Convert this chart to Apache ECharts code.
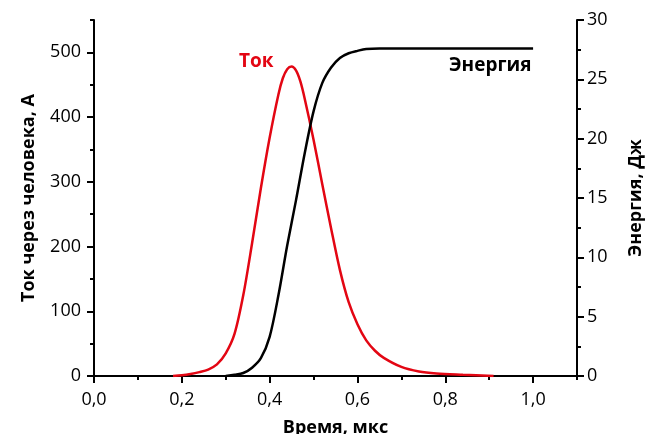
<!DOCTYPE html>
<html>
<head>
<meta charset="utf-8">
<script src="https://cdn.jsdelivr.net/npm/echarts@6/dist/echarts.min.js"></script>
<style>
  html, body { margin: 0; padding: 0; background: #fff; }
  #chart { width: 650px; height: 434px; }
</style>
</head>
<body>
<div id="chart"></div>
<script>
// время, мкс и ток, А
var currentT = [0.18, 0.20, 0.22, 0.24, 0.26, 0.28, 0.30, 0.32, 0.34, 0.36, 0.38, 0.40, 0.42, 0.43, 0.44, 0.45, 0.46, 0.47, 0.48, 0.50, 0.52, 0.54, 0.56, 0.58, 0.60, 0.62, 0.64, 0.66, 0.70, 0.74, 0.78, 0.84, 0.91];
var current  = [0, 1, 3, 6, 10, 18, 35, 65, 125, 205, 290, 368, 435, 460, 474, 478, 472, 455, 428, 365, 296, 228, 164, 114, 80, 55, 39, 28, 14, 7, 4, 2, 0];

// время, мкс и энергия, Дж
var energyT = [0.30, 0.32, 0.34, 0.36, 0.38, 0.40, 0.42, 0.44, 0.46, 0.48, 0.50, 0.52, 0.54, 0.56, 0.58, 0.60, 0.62, 0.65, 1.0];
var energy  = [0, 0.1, 0.25, 0.7, 1.5, 3.3, 6.8, 11.0, 14.8, 18.8, 22.3, 24.7, 26.0, 26.8, 27.2, 27.4, 27.55, 27.6, 27.6];

// деления осей
var xMajor = [0, 0.2, 0.4, 0.6, 0.8, 1.0];
var xMinor = [0.1, 0.3, 0.5, 0.7, 0.9, 1.1];
var yLeftMajor = [0, 100, 200, 300, 400, 500];
var yLeftMinor = [50, 150, 250, 350, 450, 550];
var yRightMajor = [0, 5, 10, 15, 20, 25, 30];
var yRightMinor = [2.5, 7.5, 12.5, 17.5, 22.5, 27.5];

var RED = '#e30613';
var FONT = 'Open Sans';

function zip(xs, ys) {
	return xs.map(function (x, i) { return [x, ys[i]]; });
}

var chart = echarts.init(document.getElementById('chart'));

var lineAxis = { show: true, onZero: false, lineStyle: { color: '#000', width: 2 } };
var noLine = { show: false };
var rect = { left: 94, right: 73, top: 20, bottom: 58, outerBoundsMode: 'none' };
var nameStyle = { fontFamily: FONT, fontSize: 18, fontWeight: 'bold', color: '#000' };

function minorAxis(ticks, min, max, pos, grid) {
	return {
		type: 'value', min: min, max: max, position: pos, gridIndex: grid,
		axisLine: noLine,
		axisTick: { customValues: ticks, length: 4, lineStyle: { color: '#000', width: 2 } },
		axisLabel: { show: false },
		splitLine: { show: false }
	};
}

var option = {
	animation: false,
	textStyle: { fontFamily: FONT },
	// вторая сетка только для мелких делений
	grid: [rect, rect],
	xAxis: [{
		type: 'value', min: 0, max: 1.1, position: 'bottom', gridIndex: 0,
		name: 'Время, мкс', nameLocation: 'middle', nameGap: 43,
		nameTextStyle: nameStyle,
		axisLine: lineAxis,
		axisTick: { customValues: xMajor, length: 7, lineStyle: { color: '#000', width: 2 } },
		axisLabel: {
			customValues: xMajor, fontFamily: FONT, fontSize: 18, color: '#000', margin: 15,
			formatter: function (v) { return v.toFixed(1).replace('.', ','); }
		},
		splitLine: { show: false }
	}, minorAxis(xMinor, 0, 1.1, 'bottom', 1)],
	yAxis: [{
		type: 'value', min: 0, max: 550, position: 'left', gridIndex: 0,
		name: 'Ток через человека, А', nameLocation: 'middle', nameGap: 56,
		nameTextStyle: nameStyle,
		axisLine: lineAxis,
		axisTick: { customValues: yLeftMajor, length: 7, lineStyle: { color: '#000', width: 2 } },
		axisLabel: { customValues: yLeftMajor, fontFamily: FONT, fontSize: 18, color: '#000', margin: 13 },
		splitLine: { show: false }
	}, {
		type: 'value', min: 0, max: 30, position: 'right', gridIndex: 0,
		name: 'Энергия, Дж', nameLocation: 'middle', nameGap: 50, nameRotate: 90,
		nameTextStyle: nameStyle,
		axisLine: lineAxis,
		axisTick: { customValues: yRightMajor, length: 7, lineStyle: { color: '#000', width: 2 } },
		axisLabel: { customValues: yRightMajor, fontFamily: FONT, fontSize: 18, color: '#000', margin: 10 },
		splitLine: { show: false }
	}, minorAxis(yLeftMinor, 0, 550, 'left', 1), minorAxis(yRightMinor, 0, 30, 'right', 1)],
	series: [{
		name: 'Ток', type: 'line', xAxisIndex: 0, yAxisIndex: 0,
		data: zip(currentT, current), smooth: 0.3, showSymbol: false,
		lineStyle: { color: RED, width: 2.5 }
	}, {
		name: 'Энергия', type: 'line', xAxisIndex: 0, yAxisIndex: 1,
		data: zip(energyT, energy), smooth: 0.3, showSymbol: false,
		lineStyle: { color: '#000', width: 2.5 }
	}],
	graphic: [{
		type: 'text', left: 239, top: 52,
		style: { text: 'Ток', fill: RED, font: 'bold 19px "Open Sans"' }
	}, {
		type: 'text', left: 449, top: 56,
		style: { text: 'Энергия', fill: '#000', font: 'bold 19px "Open Sans"' }
	}]
};

chart.setOption(option);
</script>
</body>
</html>
